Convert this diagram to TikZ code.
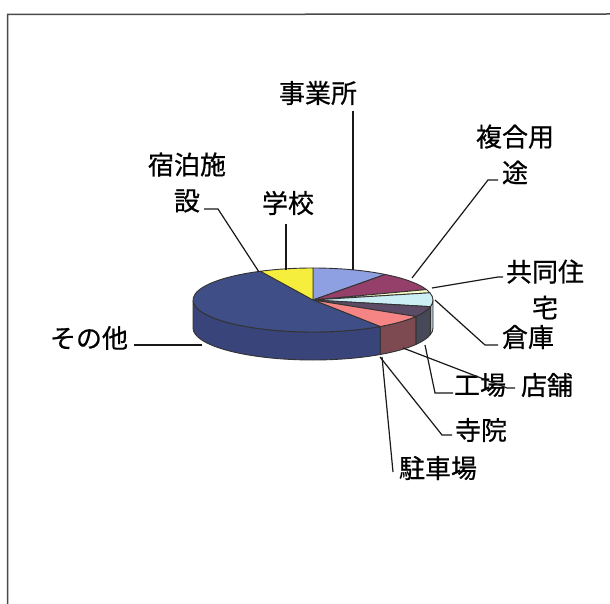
\documentclass[tikz,border=0pt]{standalone}
\usepackage{fontspec}
\newfontfamily\jp[FakeBold=0.6]{Noto Sans CJK JP}
\usetikzlibrary{calc}
\definecolor{cJig}{HTML}{8E9FE2}
\definecolor{cFuku}{HTML}{94406A}
\definecolor{cKyou}{HTML}{FFFFCC}
\definecolor{cSouko}{HTML}{CBEFF5}
\definecolor{cKoujou}{HTML}{5B4B66}
\definecolor{cTenpo}{HTML}{F58584}
\definecolor{cSonota}{HTML}{404E88}
\definecolor{cGakkou}{HTML}{F6EE3C}
\definecolor{sSouko}{HTML}{A9C2CA}
\definecolor{sKoujou}{HTML}{474858}
\definecolor{sTenpo}{HTML}{7D4A52}
\definecolor{sSonota}{HTML}{39457A}
\definecolor{cFrame}{HTML}{4A4A4A}
\newcommand\pieside[3]{\filldraw[facet, fill=#3] ($(C)+({\rx*cos(#1)},{\ry*sin(#1)})$) arc[start angle=#1, end angle=#2, x radius=\rx, y radius=\ry] -- ($(B)+({\rx*cos(#2)},{\ry*sin(#2)})$) arc[start angle=#2, end angle=#1, x radius=\rx, y radius=\ry] -- cycle;}
\newcommand\pietop[3]{\filldraw[facet, fill=#3] (C) -- ($(C)+({\rx*cos(#1)},{\ry*sin(#1)})$) arc[start angle=#1, end angle=#2, x radius=\rx, y radius=\ry] -- cycle;}
\begin{document}
\begin{tikzpicture}[x=1pt,y=1pt,
  every node/.style={font=\jp\fontsize{26}{36}\selectfont, inner sep=0pt, align=center},
  leader/.style={draw=black!90, line width=1.2pt},
  facet/.style={draw=black!80, line width=0.9pt, line join=round},
  frame/.style={draw=cFrame, line width=1.5pt}]
\useasboundingbox (0,0) rectangle (610,-604);
\fill[white] (0,0) rectangle (610,-604);
\draw[frame] (7.5,-604) -- (7.5,-14.5) -- (610,-14);
\def\rx{120}\def\ry{32}
\coordinate (C) at (313,-300);
\coordinate (B) at (313,-328);
% sides
\pieside{0}{-12}{sSouko}
\pieside{-12}{-31}{sKoujou}
\pieside{-31}{-56}{sTenpo}
\pieside{-56}{-180}{sSonota}
% tops
\pietop{90}{53}{cJig}
\pietop{53}{19}{cFuku}
\pietop{19}{13}{cKyou}
\pietop{13}{-12}{cSouko}
\pietop{-12}{-31}{cKoujou}
\pietop{-31}{-56}{cTenpo}
\pietop{-56}{-244}{cSonota}
\pietop{116}{90}{cGakkou}
% labels
\node (jigyo) at (318,-93) {事業所};
\node (fukugo) at (515,-154.5) {複合用\\途};
\node (kyodo) at (545,-289.5) {共同住\\宅};
\node (souko) at (528,-337) {倉庫};
\node (kojo) at (480,-385) {工場};
\node (tenpo) at (547,-385) {店舗};
\node (jiin) at (481,-430) {寺院};
\node (chusha) at (438,-468) {駐車場};
\node (sonota) at (89,-338) {その他};
\node (shuku) at (187,-182.5) {宿泊施\\設};
\node (gakko) at (288,-203) {学校};
% leader anchors
\coordinate (pJig) at (353,-270);   \coordinate (eJig) at (353,-111);
\coordinate (pFuku) at (412,-278);  \coordinate (kFuku) at (488,-180); \coordinate (eFuku) at (498,-180);
\coordinate (pKyou) at (432,-288);  \coordinate (kKyou) at (498,-277); \coordinate (eKyou) at (503,-277);
\coordinate (pSouko) at (435,-300); \coordinate (kSouko) at (485,-345); \coordinate (eSouko) at (498,-345);
\coordinate (pKojo) at (425,-345);  \coordinate (kKojo) at (435,-393); \coordinate (eKojo) at (453,-393);
\coordinate (pTenpo) at (403,-348); \coordinate (kTenpo) at (507,-388); \coordinate (eTenpo) at (515,-388);
\coordinate (pJiin) at (380,-357);  \coordinate (kJiin) at (442,-435); \coordinate (eJiin) at (452,-435);
\coordinate (pChu) at (382,-357);   \coordinate (eChu) at (393,-472);
\coordinate (pSono) at (202,-345);  \coordinate (eSono) at (134,-345);
\coordinate (pShuku) at (259,-272); \coordinate (kShuku) at (218,-209); \coordinate (eShuku) at (204,-209);
\coordinate (pGak) at (286,-270);   \coordinate (eGak) at (286,-224);
% leaders
\draw[leader] (pJig) -- (eJig);
\draw[leader] (pFuku) -- (kFuku) -- (eFuku);
\draw[leader] (pKyou) -- (kKyou) -- (eKyou);
\draw[leader] (pSouko) -- (kSouko) -- (eSouko);
\draw[leader] (pKojo) -- (kKojo) -- (eKojo);
\draw[leader] (pTenpo) -- (kTenpo) -- (eTenpo);
\draw[leader] (pJiin) -- (kJiin) -- (eJiin);
\draw[leader] (pChu) -- (eChu);
\draw[leader] (pSono) -- (eSono);
\draw[leader] (pShuku) -- (kShuku) -- (eShuku);
\draw[leader] (pGak) -- (eGak);
\end{tikzpicture}
\end{document}
